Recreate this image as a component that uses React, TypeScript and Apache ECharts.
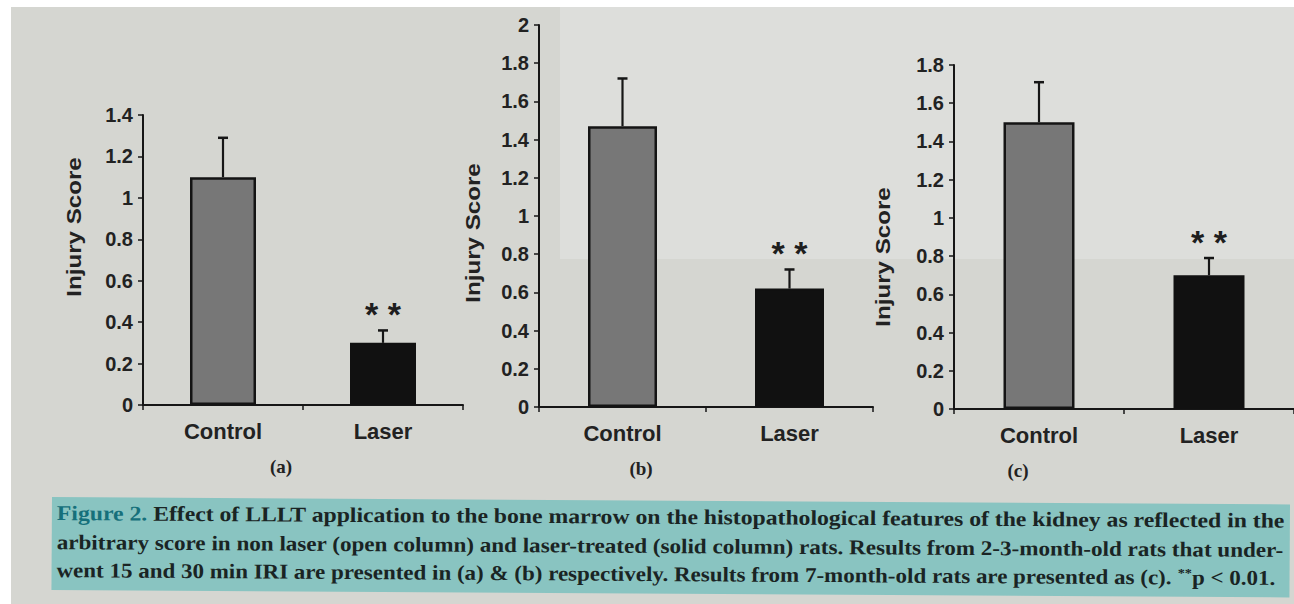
import React, { useEffect, useRef } from 'react';
import * as echarts from 'echarts';

// ---- data ----
const categories = ['Control', 'Laser'];
const panelLabels = ['(a)', '(b)', '(c)'];
const yAxisName = 'Injury Score';
const meansA = [1.1, 0.3];
const errorsA = [0.19, 0.06];
const meansB = [1.47, 0.62];
const errorsB = [0.25, 0.1];
const meansC = [1.5, 0.7];
const errorsC = [0.21, 0.09];
const significance = ['', '* *'];
const yMaxes = [1.4, 2, 1.8];
const yInterval = 0.2;
const captionLine1 = 'Effect of LLLT application to the bone marrow on the histopathological features of the kidney as reflected in the';
const captionLine2 = 'arbitrary score in non laser (open column) and laser-treated (solid column) rats. Results from 2-3-month-old rats that under-';
const captionLine3 = 'went 15 and 30 min IRI are presented in (a) & (b) respectively. Results from 7-month-old rats are presented as (c).';
const captionPValue = 'p < 0.01.';

const allMeans = [meansA, meansB, meansC];
const allErrors = [errorsA, errorsB, errorsC];

// ---- layout ----
const panels = [
  { left: 143, top: 115, width: 320, height: 290, barWidth: 66, nameX: 74, nameY: 227, labelX: 281, labelY: 466 },
  { left: 539, top: 25, width: 334, height: 382, barWidth: 69, nameX: 473, nameY: 233, labelX: 641, labelY: 468 },
  { left: 954, top: 65, width: 340, height: 344, barWidth: 71, nameX: 883, nameY: 257, labelX: 1018, labelY: 470 },
];

const INK = '#161616';
const SANS = '"Liberation Sans", Arial, sans-serif';
const SERIF = '"Liberation Serif", "Times New Roman", serif';

function measure(text: string, font: string): number {
  const c = document.createElement('canvas').getContext('2d');
  if (!c) return text.length * 9;
  c.font = font;
  return c.measureText(text).width;
}

export default function App() {
  const ref = useRef<HTMLDivElement>(null);

  useEffect(() => {
    if (!ref.current) return;
    const chart = echarts.init(ref.current, null, { renderer: 'svg' });

    const grids = panels.map((p) => ({
      left: p.left, top: p.top, width: p.width, height: p.height,
      containLabel: false, outerBoundsMode: 'none',
    }));

    const xAxes = panels.map((_, i) => ({
      type: 'category', gridIndex: i, data: categories,
      axisLine: { show: true, lineStyle: { color: INK, width: 2 } },
      axisTick: { show: true, length: 5, lineStyle: { color: INK, width: 1.5 } },
      axisLabel: { fontSize: 22, fontWeight: 'bold', color: '#222', margin: 15, fontFamily: SANS },
    }));

    const yAxes = panels.map((_, i) => ({
      type: 'value', gridIndex: i, min: 0, max: yMaxes[i], interval: yInterval,
      axisLine: { show: true, lineStyle: { color: INK, width: 2 } },
      axisTick: { show: true, length: 5, lineStyle: { color: INK, width: 1.5 } },
      splitLine: { show: false },
      axisLabel: { fontSize: 20, fontWeight: 'bold', color: '#222', margin: 10, fontFamily: SANS },
    }));

    const series: any[] = [];
    panels.forEach((p, i) => {
      series.push({
        type: 'bar', xAxisIndex: i, yAxisIndex: i, barWidth: p.barWidth,
        data: allMeans[i].map((v, k) => ({
          value: v,
          itemStyle: k === 0
            ? { color: '#777777', borderColor: '#141414', borderWidth: 2.5 }
            : { color: '#111111', borderColor: '#111111', borderWidth: 2 },
        })),
        z: 2,
      });
      series.push({
        type: 'custom', xAxisIndex: i, yAxisIndex: i, z: 3,
        data: allMeans[i].map((v, k) => [k, v, allErrors[i][k]]),
        renderItem: (params: any, api: any) => {
          const idx = api.value(0);
          const mean = api.value(1);
          const err = api.value(2);
          const base = api.coord([idx, mean]);
          const top = api.coord([idx, mean + err]);
          const children: any[] = [
            { type: 'line', shape: { x1: base[0], y1: base[1], x2: top[0], y2: top[1] }, style: { stroke: INK, lineWidth: 2.2 } },
            { type: 'line', shape: { x1: top[0] - 5, y1: top[1], x2: top[0] + 5, y2: top[1] }, style: { stroke: INK, lineWidth: 2.5 } },
          ];
          const sig = significance[params.dataIndex];
          if (sig) {
            children.push({
              type: 'text', x: top[0], y: top[1] - 16,
              style: { text: sig, fill: '#1e1e1e', font: `bold 34px ${SANS}`, align: 'center', verticalAlign: 'middle' },
            });
          }
          return { type: 'group', children };
        },
      });
    });

    // caption
    const capFont = `bold 21px ${SERIF}`;
    const capTarget = 1228;
    const line1Plain = 'Figure 2. ' + captionLine1;
    const line3Plain = captionLine3 + ' **' + captionPValue;
    const s1 = capTarget / measure(line1Plain, capFont);
    const s2 = capTarget / measure(captionLine2, capFont);
    const s3 = capTarget / measure(line3Plain, capFont);
    const capRich = {
      f: { fill: '#16707b', font: capFont },
      t: { fill: '#1a2424', font: capFont },
      sup: { fill: '#1a2424', font: `bold 13px ${SERIF}`, verticalAlign: 'top' },
    };

    const graphic: any[] = [
      { type: 'rect', z: -20, shape: { x: 11, y: 7, width: 1283, height: 597 }, style: { fill: '#d5d6d1' } },
      { type: 'rect', z: -19, shape: { x: 560, y: 7, width: 734, height: 252 }, style: { fill: '#dddedb' } },
      {
        type: 'group', x: 52, y: 497, rotation: -0.006, z: 5,
        children: [
          { type: 'rect', shape: { x: 0, y: 0, width: 1238, height: 93 }, style: { fill: '#89c4c1' } },
          {
            type: 'text', x: 5, y: 16, scaleX: s1,
            style: { text: `{f|Figure 2.}{t| ${captionLine1}}`, rich: capRich, verticalAlign: 'middle', align: 'left' },
          },
          {
            type: 'text', x: 5, y: 45, scaleX: s2,
            style: { text: `{t|${captionLine2}}`, rich: capRich, verticalAlign: 'middle', align: 'left' },
          },
          {
            type: 'text', x: 5, y: 73, scaleX: s3,
            style: { text: `{t|${captionLine3} }{sup|**}{t|${captionPValue}}`, rich: capRich, verticalAlign: 'middle', align: 'left' },
          },
        ],
      },
    ];

    panels.forEach((p, i) => {
      graphic.push({
        type: 'text', x: p.nameX, y: p.nameY, rotation: Math.PI / 2, scaleX: 1.15, z: 5,
        style: { text: yAxisName, font: `bold 21px ${SANS}`, fill: '#222', align: 'center', verticalAlign: 'middle' },
      });
      graphic.push({
        type: 'text', x: p.labelX, y: p.labelY, z: 5,
        style: { text: panelLabels[i], font: `bold 19px ${SERIF}`, fill: '#222', align: 'center', verticalAlign: 'middle' },
      });
    });

    chart.setOption({
      animation: false,
      backgroundColor: '#ffffff',
      grid: grids,
      xAxis: xAxes,
      yAxis: yAxes,
      series,
      graphic,
    });

    return () => chart.dispose();
  }, []);

  return <div ref={ref} style={{ position: 'fixed', left: 0, top: 0, width: 1294, height: 604 }} />;
}
